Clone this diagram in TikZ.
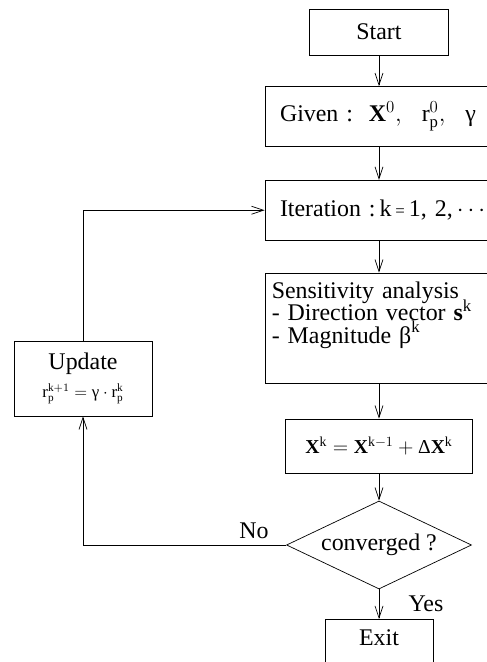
\documentclass[tikz,border=0pt]{standalone}
\usepackage{fontspec}
\setmainfont{Liberation Serif}
\usepackage{amsmath}
\usetikzlibrary{shapes.geometric}
\usetikzlibrary{arrows.meta}

\newcommand{\tightlines}{\setlength{\lineskiplimit}{-10pt}}

\tikzset{
	flowbox/.style={draw, line width=0.5pt, minimum height=1.5cm},
	flowarrow/.style={draw, line width=0.5pt, -{Straight Barb[length=0.3cm,width=0.2cm]}},
}

\begin{document}
\begin{tikzpicture}[font={\fontsize{17}{16}\selectfont\tightlines}]
		\useasboundingbox (0,0) rectangle (12.15,16.55);

		\node[flowbox, minimum width=3.475cm, minimum height=1.15cm] (start) at (9.475,15.75) {Start};

		\node[flowbox, minimum width=5.7cm, text width=4.95cm, inner xsep=0.375cm, align=left] (given) at (9.475,13.6375)
			{\mbox{Given :\ \ $\textbf{X}^{0},\ \ \text{r}_{\text{p}}^{0},\ \ \text{γ}$}};

		\node[flowbox, minimum width=5.7cm, text width=4.95cm, inner xsep=0.375cm, align=left] (iter) at (9.475,11.294)
			{\mbox{Iteration :\,k\,{\fontsize{12}{12}\selectfont=}\,1,\ 2,\,$\cdots$}};

		\node[flowbox, minimum width=5.7cm, minimum height=2.75cm, text width=5.36cm, inner xsep=0.17cm, inner ysep=0.1cm, text depth=1.9cm, align=left] (sens) at (9.475,8.35)
			{Sensitivity analysis\\
			- Direction vector\ $\textbf{s}^{\text{k}}$\\
			- Magnitude\ $\text{β}^{\text{k}}$};

		\node[flowbox, minimum width=4.675cm, minimum height=1.35cm, font=\fontsize{14}{16}\selectfont] (xk) at (9.475,5.4)
			{$\textbf{X}^{\text{k}} = \textbf{X}^{\text{k}-1} + \text{Δ}\textbf{X}^{\text{k}}$};

		\node[draw, line width=0.5pt, diamond, aspect=2.1, inner sep=0pt, minimum width=4.625cm, minimum height=2.2cm] (conv) at (9.475,2.925)
			{converged ?};

		\node[flowbox, anchor=north, minimum width=2.7cm, minimum height=1.3cm, text height=0.4cm, text depth=0.37cm] (exit) at (9.475,1.075) {Exit};

		\node[flowbox, minimum width=3.45cm, minimum height=1.875cm, align=center] (update) at (2.075,7.0875)
			{Update\\[4pt]
			{\fontsize{12}{14}\selectfont $\text{r}_{\text{p}}^{\text{k}+1} = \text{γ}\cdot\text{r}_{\text{p}}^{\text{k}}$}};

		\node (no) at (6.35,3.275) {No};
		\node (yes) at (10.65,1.45) {Yes};

		\draw[flowarrow] (start) -- (given);
		\draw[flowarrow] (given) -- (iter);
		\draw[flowarrow] (iter) -- (sens);
		\draw[flowarrow] (sens) -- (xk);
		\draw[flowarrow] (xk) -- (conv);
		\draw[flowarrow] (conv) -- (exit);
		\draw[flowarrow] (conv.west) -| (update.south);
		\draw[flowarrow] (update.north) |- (iter.west);

	\end{tikzpicture}
\end{document}
